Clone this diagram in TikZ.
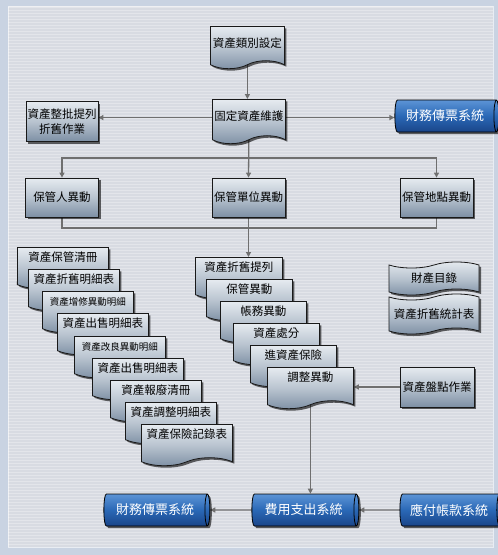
\documentclass[tikz,border=0pt]{standalone}
\usepackage{fontspec}
\setmainfont{Noto Sans CJK TC}
\usetikzlibrary{shapes.geometric,shapes.symbols,shadows,arrows.meta}
\definecolor{outerbg}{HTML}{C9D3E2}
\definecolor{panel}{HTML}{D8DBE2}
\definecolor{mtop}{HTML}{E6EBF0}
\definecolor{mmid}{HTML}{B8C3CF}
\definecolor{mbot}{HTML}{7D8FA4}
\definecolor{btop}{HTML}{5C94D6}
\definecolor{bmid}{HTML}{2A68B6}
\definecolor{bbot}{HTML}{1A4589}
\definecolor{conncol}{HTML}{6F6F6F}
\pgfdeclarelayer{back}
\pgfdeclarelayer{conn}
\pgfsetlayers{back,conn,main}
\begin{document}
\begin{tikzpicture}[x=1pt,y=-1pt,
  metal/.style={top color=mtop,bottom color=mbot,middle color=mmid},
  shad/.style={drop shadow={shadow xshift=2pt,shadow yshift=-2pt,fill=black,opacity=0.6}},
  txt/.style={font=\fontsize{11.5}{15}\selectfont},
  smalltxt/.style={font=\fontsize{9.5}{12}\selectfont},
  box/.style={draw=black!90,line width=0.8pt,metal,shad,txt,inner sep=1pt,align=center,minimum height=39pt,minimum width=73pt},
  doc/.style={shape=tape,tape bend top=none,tape bend bottom=in and out,tape bend height=8pt,draw=black!90,line width=0.8pt,metal,shad,txt,anchor=north west,inner xsep=1pt,inner ysep=2pt,text height=12.3pt},
  stackdoc/.style={doc,minimum width=#1,text depth=17pt},
  wavy/.style={shape=tape,tape bend height=6pt,draw=black!90,line width=0.8pt,metal,shad,txt,inner sep=1pt,minimum width=90pt},
  cyl/.style={shape=cylinder,shape aspect=0.35,draw=black,line width=0.8pt,top color=btop,bottom color=bbot,middle color=bmid,shad,text=white,font=\fontsize{13}{15}\selectfont,minimum width=32pt,inner sep=1pt},
  conn/.style={draw=conncol,line width=1.3pt},
  arr/.style={conn,-{Triangle[length=5pt,width=5pt]}}
]
\useasboundingbox (0,0) rectangle (498,555);
\begin{pgfonlayer}{back}
  \fill[outerbg] (0,0) rectangle (498,555);
  \fill[panel] (8,6) rectangle (493,547);
  \foreach \yy in {7,10,...,546} \draw[white,opacity=0.3,line width=1pt] (8,\yy) -- (493,\yy);
  \draw[white,opacity=0.6,line width=1pt] (8,6) rectangle (493,547);
\end{pgfonlayer}

% top part
\node[doc,minimum width=74pt,text height=19.3pt,text depth=11pt] (t1) at (210,26) {資產類別設定};
\node[doc,minimum width=73pt,text height=19.3pt,text depth=13pt] (t2) at (212,99) {固定資產維護};
\node[box,minimum width=72pt,minimum height=40pt] (tl) at (62,121.5) {資產整批提列\\折舊作業};
\node[cyl,minimum height=104pt] (tr) at (445,116) {財務傳票系統};

\node[box] (b1) at (62,197.5) {保管人異動};
\node[box] (b2) at (248.5,197.5) {保管單位異動};
\node[box] (b3) at (436.5,197.5) {保管地點異動};

% left stack
\node[stackdoc=91pt] (l1) at (17,247) {資產保管清冊};
\node[stackdoc=91pt] (l2) at (28,269) {資產折舊明細表};
\node[stackdoc=91pt,smalltxt] (l3) at (42,291) {資產增修異動明細};
\node[stackdoc=91pt] (l4) at (57,313) {資產出售明細表};
\node[stackdoc=91pt,smalltxt] (l5) at (74,336) {資產改良異動明細};
\node[stackdoc=91pt] (l6) at (92,358) {資產出售明細表};
\node[stackdoc=91pt] (l7) at (110,380) {資產報廢清冊};
\node[stackdoc=91pt] (l8) at (125,402) {資產調整明細表};
\node[stackdoc=91pt] (l9) at (141,424) {資產保險記錄表};

% middle stack
\node[stackdoc=87pt] (m1) at (195,257) {資產折舊提列};
\node[stackdoc=86pt] (m2) at (206,279) {保管異動};
\node[stackdoc=86pt] (m3) at (220,301) {帳務異動};
\node[stackdoc=86pt] (m4) at (233,323) {資產處分};
\node[stackdoc=86pt] (m5) at (250,345) {進資產保險};
\node[stackdoc=86pt] (m6) at (267,367) {調整異動};

% right column
\node[wavy,minimum height=33pt] (r1) at (434,278.5) {財產目錄};
\node[wavy,minimum height=40pt] (r2) at (434,314) {資產折舊統計表};
\node[box,minimum width=74pt,minimum height=40pt] (r3) at (437,387) {資產盤點作業};

% bottom systems
\node[cyl,minimum height=106pt] (f1) at (155,510) {財務傳票系統};
\node[cyl,minimum height=107pt] (f2) at (303.5,510) {費用支出系統};
\node[cyl,minimum height=102pt] (f3) at (449,510) {應付帳款系統};

\coordinate (sp) at (248.5,158);
\coordinate (bj) at (248.5,228);

\begin{pgfonlayer}{conn}
  \draw[arr] (t1.south) -- (t1.south |- t2.north);
  \draw[arr] (t2.west) -- (tl.east |- t2.west);
  \draw[arr] (t2.east) -- (tr.west |- t2.east);
  \draw[arr] (t2.south) -- (b2.north);
  \draw[arr] (sp) -| (b1.north);
  \draw[arr] (sp) -| (b3.north);
  \draw[conn] (b1.south) |- (bj) -| (b3.south);
  \draw[arr] (b2.south) -- (b2.south |- m1.north);
  \draw[arr] (r3.west) -- (r3.west -| m6.east);
  \draw[arr] (m6.south) -- (m6.south |- f2.north);
  \draw[arr] (f3.west) -- (f2.east);
  \draw[arr] (f2.west) -- (f1.east);
\end{pgfonlayer}
\end{tikzpicture}
\end{document}
